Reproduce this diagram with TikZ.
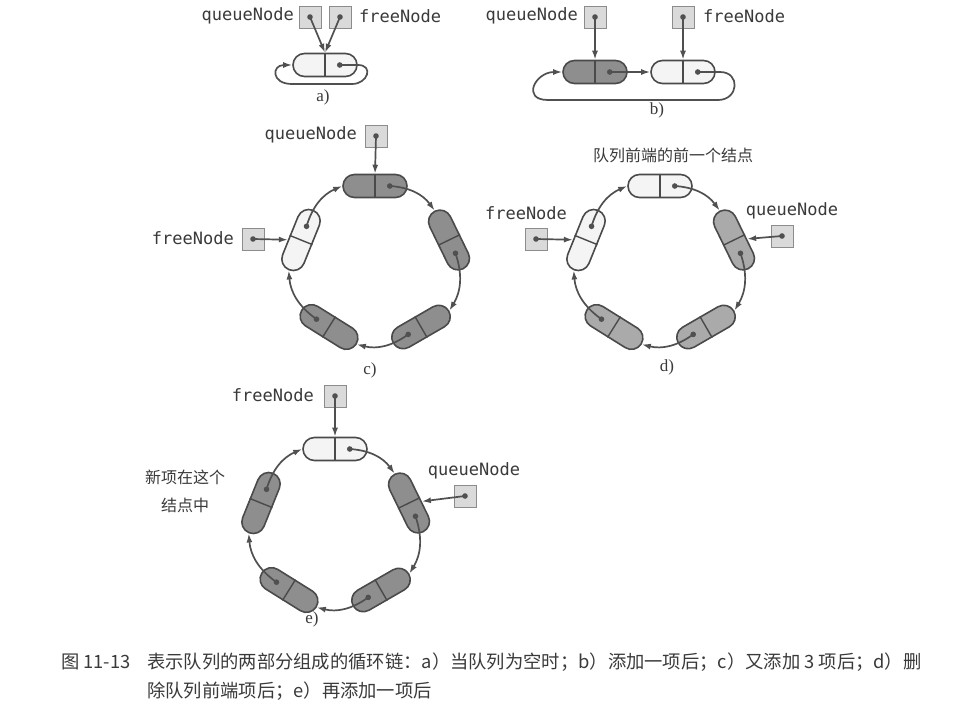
\documentclass[tikz,border=0pt]{standalone}
\usepackage{fontspec}
\setmainfont{Liberation Serif}
\newfontfamily\monof{DejaVu Sans Mono}
\newfontfamily\cjk{Noto Sans CJK SC}
\usetikzlibrary{shapes.misc,arrows.meta,calc}
\definecolor{lnc}{HTML}{505050}
\definecolor{pilledge}{HTML}{4A4A4A}
\definecolor{pillwhite}{HTML}{F4F4F4}
\definecolor{pilldark}{HTML}{8E8E8E}
\definecolor{pilllight}{HTML}{AAAAAA}
\definecolor{boxfill}{HTML}{DADADA}
\definecolor{boxedge}{HTML}{8C8C8C}
\definecolor{txtc}{HTML}{3A3A3A}
\tikzset{
  pillshape/.style={rounded rectangle, draw=pilledge, line width=1.6pt,
    minimum width=64pt, minimum height=23pt, inner sep=0pt},
  divline/.style={draw=pilledge, line width=1.4pt},
  ptrbox/.style={draw=boxedge, fill=boxfill, line width=1pt,
    minimum width=22pt, minimum height=22pt, inner sep=0pt},
  arr/.style={draw=lnc, line width=1.7pt, -{Latex[length=9pt,width=6pt]}},
  mono/.style={font=\monof\fontsize{17}{19}\selectfont, text=txtc, inner sep=0pt},
  cjklbl/.style={font=\cjk\fontsize{16}{28}\selectfont, text=txtc, inner sep=0pt},
  sublbl/.style={font=\fontsize{17}{20}\selectfont, text=txtc, inner sep=0pt},
  captxt/.style={font=\cjk\fontsize{18.3}{22}\selectfont, text=txtc, inner sep=0pt, anchor=west},
}
\newcommand\mkpill[5]{%
  \node[pillshape, fill=#5, rotate=#4] (#1) at (#2,#3) {};
  \draw[divline] (#1.north) -- (#1.south);
  \coordinate (#1-d) at ($(#1.center)!0.45!(#1.east)$);
  \fill[lnc] (#1-d) circle (2.8pt);
}
\newcommand\mkbox[3]{%
  \node[ptrbox] (#1) at (#2,#3) {};
  \fill[lnc] (#1.center) circle (2.8pt);
}
\begin{document}
\begin{tikzpicture}[x=1pt,y=-1pt]
\useasboundingbox (0,0) rectangle (976,718);
\fill[white] (0,0) rectangle (976,718);

% ---------- a)
\mkpill{A}{325}{65}{0}{pillwhite}
\mkbox{qa}{310}{17}
\mkbox{fa}{340}{17}
\node[mono, anchor=east] (qaT) at (294,16) {queueNode};
\node[mono, anchor=west] (faT) at (359,16) {freeNode};
\draw[arr] (qa.center) -- (A.north);
\draw[arr] (fa.center) -- (A.north);
\coordinate (aL1) at (358,65);
\coordinate (aL2) at (352,84);
\coordinate (aL3) at (292,84);
\draw[arr] (A-d) -- (aL1) to[out=0,in=0,looseness=2.05] (aL2) -- (aL3)
  to[out=180,in=180,looseness=2.8] (A.west);
\node[sublbl] (aLab) at (323,97) {a)};

% ---------- b)
\mkpill{B1}{595}{72}{0}{pilldark}
\mkpill{B2}{683}{72}{0}{pillwhite}
\mkbox{qb}{595}{17}
\mkbox{fb}{683}{17}
\node[mono, anchor=east] (qbT) at (578,16) {queueNode};
\node[mono, anchor=west] (fbT) at (703,16) {freeNode};
\draw[arr] (qb.center) -- (B1.north);
\draw[arr] (fb.center) -- (B2.north);
\draw[arr] (B1-d) -- (B2.west);
\coordinate (bL1) at (720,72);
\coordinate (bL2) at (718,100);
\coordinate (bL3) at (548,100);
\draw[arr] (B2-d) -- (bL1) to[out=0,in=0,looseness=1.9] (bL2) -- (bL3)
  to[out=180,in=180,looseness=2.2] (B1.west);
\node[sublbl] (bLab) at (657,110) {b)};

% ---------- c)
\begin{scope}[shift={(375,264)}]
\mkpill{c1}{0}{-78}{0}{pilldark}
\mkpill{c2}{74}{-24}{-64}{pilldark}
\mkpill{c3}{46}{63}{-150}{pilldark}
\mkpill{c4}{-46}{63}{148}{pilldark}
\mkpill{c5}{-74}{-24}{68}{pillwhite}
\end{scope}
\draw[arr] (c1-d) to[bend left=25] (c2.west);
\draw[arr] (c2-d) to[bend left=25] (c3.west);
\draw[arr] (c3-d) to[bend left=25] (c4.west);
\draw[arr] (c4-d) to[bend left=25] (c5.west);
\draw[arr] (c5-d) to[bend left=25] (c1.west);
\mkbox{cq}{376}{136}
\node[mono, anchor=east] (cqT) at (357,135) {queueNode};
\draw[arr] (cq.center) -- (c1.north);
\mkbox{cf}{253}{239}
\node[mono, anchor=east] (cfT) at (234,238) {freeNode};
\draw[arr] (cf.center) -- (c5);
\node[sublbl] (cLab) at (370,370) {c)};

% ---------- d)
\begin{scope}[shift={(660,264)}]
\mkpill{d1}{0}{-78}{0}{pillwhite}
\mkpill{d2}{74}{-24}{-64}{pilllight}
\mkpill{d3}{46}{63}{-150}{pilllight}
\mkpill{d4}{-46}{63}{148}{pilllight}
\mkpill{d5}{-74}{-24}{68}{pillwhite}
\end{scope}
\draw[arr] (d1-d) to[bend left=25] (d2.west);
\draw[arr] (d2-d) to[bend left=25] (d3.west);
\draw[arr] (d3-d) to[bend left=25] (d4.west);
\draw[arr] (d4-d) to[bend left=25] (d5.west);
\draw[arr] (d5-d) to[bend left=25] (d1.west);
\node[cjklbl] (dTitle) at (673,155) {队列前端的前一个结点};
\mkbox{df}{536}{239}
\node[mono] (dfT) at (526,213) {freeNode};
\draw[arr] (df.center) -- (d5);
\mkbox{dq}{782}{236}
\node[mono] (dqT) at (792,211) {queueNode};
\draw[arr] (dq.center) -- (d2);
\node[sublbl] (dLab) at (667,367) {d)};

% ---------- e)
\begin{scope}[shift={(335,527)}]
\mkpill{e1}{0}{-78}{0}{pillwhite}
\mkpill{e2}{74}{-24}{-64}{pilldark}
\mkpill{e3}{46}{63}{-150}{pilldark}
\mkpill{e4}{-46}{63}{148}{pilldark}
\mkpill{e5}{-74}{-24}{68}{pilldark}
\end{scope}
\draw[arr] (e1-d) to[bend left=25] (e2.west);
\draw[arr] (e2-d) to[bend left=25] (e3.west);
\draw[arr] (e3-d) to[bend left=25] (e4.west);
\draw[arr] (e4-d) to[bend left=25] (e5.west);
\draw[arr] (e5-d) to[bend left=25] (e1.west);
\mkbox{ef}{335}{396}
\node[mono, anchor=east] (efT) at (314,395) {freeNode};
\draw[arr] (ef.center) -- (e1.north);
\mkbox{eq}{465}{496}
\node[mono] (eqT) at (474,471) {queueNode};
\draw[arr] (eq.center) -- (e2);
\node[cjklbl, align=center] (eNote) at (185,491) {新项在这个\\结点中};
\node[sublbl] (eLab) at (312,619) {e)};

% ---------- caption
\node[captxt] (capN) at (61,662) {图 11-13};
\node[captxt] (capL1) at (147,662) {表示队列的两部分组成的循环链：a）当队列为空时；b）添加一项后；c）又添加 3 项后；d）删};
\node[captxt] (capL2) at (147,691) {除队列前端项后；e）再添加一项后};
\end{tikzpicture}
\end{document}
